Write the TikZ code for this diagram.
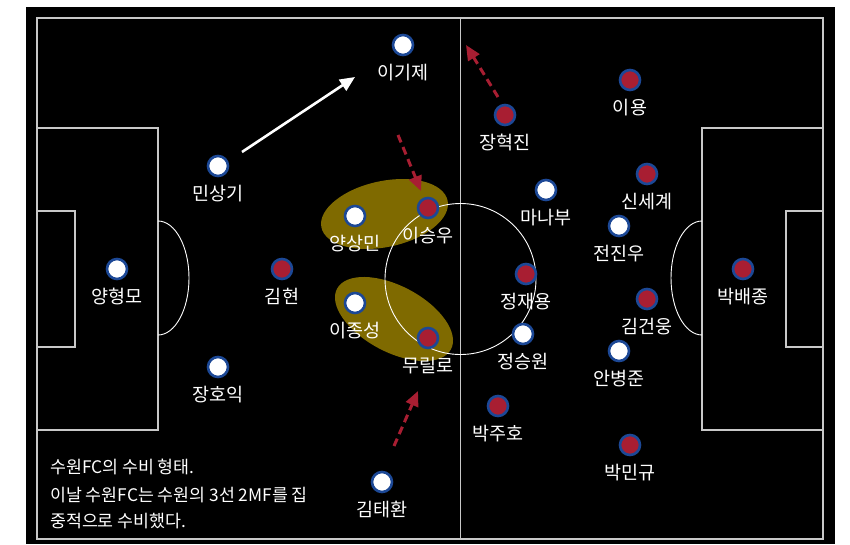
\documentclass[tikz,border=0pt]{standalone}
\usepackage{fontspec}
\setmainfont{Noto Sans CJK KR}
\usetikzlibrary{arrows.meta}
\definecolor{ringblue}{HTML}{1C4896}
\definecolor{awayred}{HTML}{A81E32}
\definecolor{olivefill}{HTML}{7F6A00}
\definecolor{linegray}{HTML}{C8C8C8}
\tikzset{
  home/.style={circle, draw=ringblue, line width=2.6pt, fill=white, minimum size=20pt, inner sep=0pt},
  away/.style={home, fill=awayred},
  pname/.style={text=white, font=\fontsize{18.5}{18.5}\selectfont, inner sep=0pt},
  pitchline/.style={draw=linegray, line width=1.2pt},
  runarrow/.style={draw=awayred, line width=3pt, dash pattern=on 8pt off 5pt, -{Triangle[length=15pt,width=13pt]}},
  passarrow/.style={draw=white, line width=2.6pt, -{Triangle[length=15pt,width=13pt]}},
  zone/.style={fill=olivefill},
  note/.style={text=white, font=\fontsize{17.3}{17.3}\selectfont, inner sep=0pt, anchor=west},
}
\newcommand\plyr[5]{\node[#1] (#2) at (#3,#4) {}; \node[pname] (#2l) at (#3,#4+27.5) {#5};}
\begin{document}
\begin{tikzpicture}[x=1pt,y=-1pt]
\useasboundingbox (0,0) rectangle (850,544);
\fill[white] (0,0) rectangle (850,544);
\fill[black] (26,7) rectangle (835,544);
% zones
\fill[zone, rotate around={12:(384.5,214)}] (384.5,214) ellipse [x radius=64.5, y radius=33];
\fill[zone, rotate around={-28:(394,319)}] (394,319) ellipse [x radius=64.5, y radius=33];
% pitch
\draw[pitchline] (37,18) rectangle (823,539);
\draw[pitchline] (460.5,18) -- (460.5,539);
\draw[pitchline] (37,128) rectangle (158,430);
\draw[pitchline] (37,211) rectangle (75,347);
\draw[pitchline] (702,128) rectangle (823,430);
\draw[pitchline] (786,211) rectangle (823,347);
\draw[white, line width=0.9pt] (460.5,279) circle [radius=75.5];
\draw[white, line width=0.9pt] (158,221) arc[start angle=-90, end angle=90, x radius=31, y radius=57];
\draw[white, line width=0.9pt] (702,221) arc[start angle=-90, end angle=-270, x radius=31, y radius=57];
% home team (white)
\plyr{home}{gk1}{117}{269}{양형모}
\plyr{home}{d1}{218}{166}{민상기}
\plyr{home}{d2}{218}{367}{장호익}
\plyr{home}{w1}{403}{45}{이기제}
\plyr{home}{m1}{355}{216}{양상민}
\plyr{home}{m2}{355}{303}{이종성}
\plyr{home}{w2}{382}{482}{김태환}
\plyr{home}{f1}{546}{190}{마나부}
\plyr{home}{f2}{619}{226}{전진우}
\plyr{home}{f3}{523}{334}{정승원}
\plyr{home}{f4}{619}{351}{안병준}
% away team (red)
\plyr{away}{a1}{505}{115}{장혁진}
\plyr{away}{a2}{630}{80}{이용}
\plyr{away}{a3}{647}{174}{신세계}
\plyr{away}{a4}{428}{208}{이승우}
\plyr{away}{a5}{282}{269}{김현}
\plyr{away}{a6}{526}{274}{정재용}
\plyr{away}{a7}{647}{299}{김건웅}
\plyr{away}{a8}{428}{338}{무릴로}
\plyr{away}{a9}{498}{406}{박주호}
\plyr{away}{a10}{630}{445}{박민규}
\plyr{away}{agk}{743}{269}{박배종}
% arrows
\coordinate (pa1) at (242,152);
\coordinate (pa2) at (355,77);
\draw[passarrow] (pa1) -- (pa2);
\coordinate (r1s) at (398,135);
\coordinate (r1e) at (421,191);
\draw[runarrow] (r1s) -- (r1e);
\coordinate (r2s) at (498,97);
\coordinate (r2e) at (466,45);
\draw[runarrow] (r2s) -- (r2e);
\coordinate (r3s) at (394,446);
\coordinate (r3e) at (418,391);
\draw[runarrow] (r3s) -- (r3e);
% note
\node[note] (n1) at (50,467) {수원FC의 수비 형태.};
\node[note] (n2) at (50,495) {이날 수원FC는 수원의 3선 2MF를 집};
\node[note] (n3) at (50,521) {중적으로 수비했다.};
\end{tikzpicture}
\end{document}
